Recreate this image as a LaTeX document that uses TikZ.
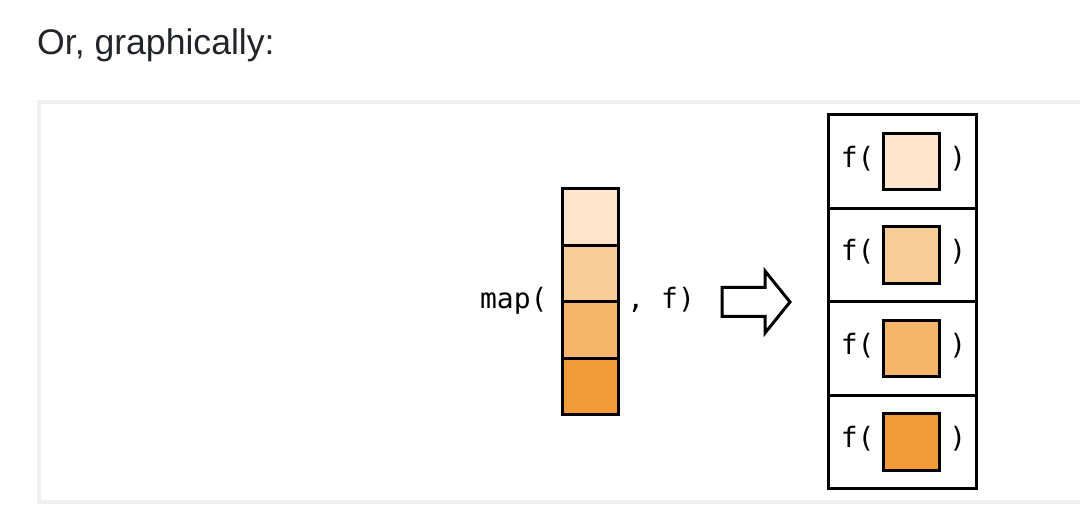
\documentclass[tikz,border=0pt]{standalone}
\usepackage{fontspec}
\setmainfont{Liberation Sans}
\newfontfamily\monofont{DejaVu Sans Mono}
\usetikzlibrary{positioning}

\definecolor{shadeA}{RGB}{252,229,203}
\definecolor{shadeB}{RGB}{246,205,153}
\definecolor{shadeC}{RGB}{244,180,106}
\definecolor{shadeD}{RGB}{240,154,56}
\definecolor{framegray}{RGB}{240,240,240}
\definecolor{titlegray}{RGB}{33,37,41}

\tikzset{
  cell/.style={draw, line width=3pt, minimum size=56.5pt, inner sep=0pt},
  row/.style={draw, line width=3pt, minimum width=148pt, minimum height=93.5pt, inner sep=0pt},
  code/.style={font=\monofont\fontsize{28}{28}\selectfont, inner sep=0pt}
}

\begin{document}
\begin{tikzpicture}[x=1pt, y=-1pt, node distance=56.5pt]
  \useasboundingbox (0,0) rectangle (1080,510);
  \draw[framegray, line width=4pt] (1082,102) -- (39,102) -- (39,502) -- (1082,502);

  \node (title) [anchor=base west, inner sep=0pt, text=titlegray,
    font=\fontsize{35.6}{35.6}\selectfont] at (37,55) {Or, graphically:};

  % input column
  \node (c1) [cell, fill=shadeA] at (590.5,217) {};
  \node (c2) [below of=c1, cell, fill=shadeB] {};
  \node (c3) [below of=c2, cell, fill=shadeC] {};
  \node (c4) [below of=c3, cell, fill=shadeD] {};

  \node (mapl) [code, anchor=mid east] at ([xshift=-13pt, yshift=-3pt]c2.south west) {map(};
  \node (mapr) [code, anchor=mid west] at ([xshift=7pt, yshift=-3pt]c2.south east) {, f)};

  % arrow
  \coordinate (arr) at (722,302);
  \draw[line width=3pt, miter limit=10, fill=white] (arr) -- ++(0,-14.5) -- ++(43,0) -- ++(0,-16.5)
    -- ++(25,31) -- ++(-25,31) -- ++(0,-16.5) -- ++(-43,0) -- cycle;

  % output rows
  \node (r1) [row] at (902,161.5) {};
  \node (r2) [below of=r1, row, node distance=93.5pt] {};
  \node (r3) [below of=r2, row, node distance=93.5pt] {};
  \node (r4) [below of=r3, row, node distance=93.5pt] {};

  \foreach \i/\c in {1/shadeA, 2/shadeB, 3/shadeC, 4/shadeD} {
    \node (s\i) [cell, fill=\c] at ([xshift=9.5pt]r\i.center) {};
    \node (fl\i) [code, anchor=mid east] at ([xshift=-7pt, yshift=-3pt]s\i.west) {f(};
    \node (fr\i) [code, anchor=mid west] at ([xshift=8pt, yshift=-3pt]s\i.east) {)};
  }
\end{tikzpicture}
\end{document}
